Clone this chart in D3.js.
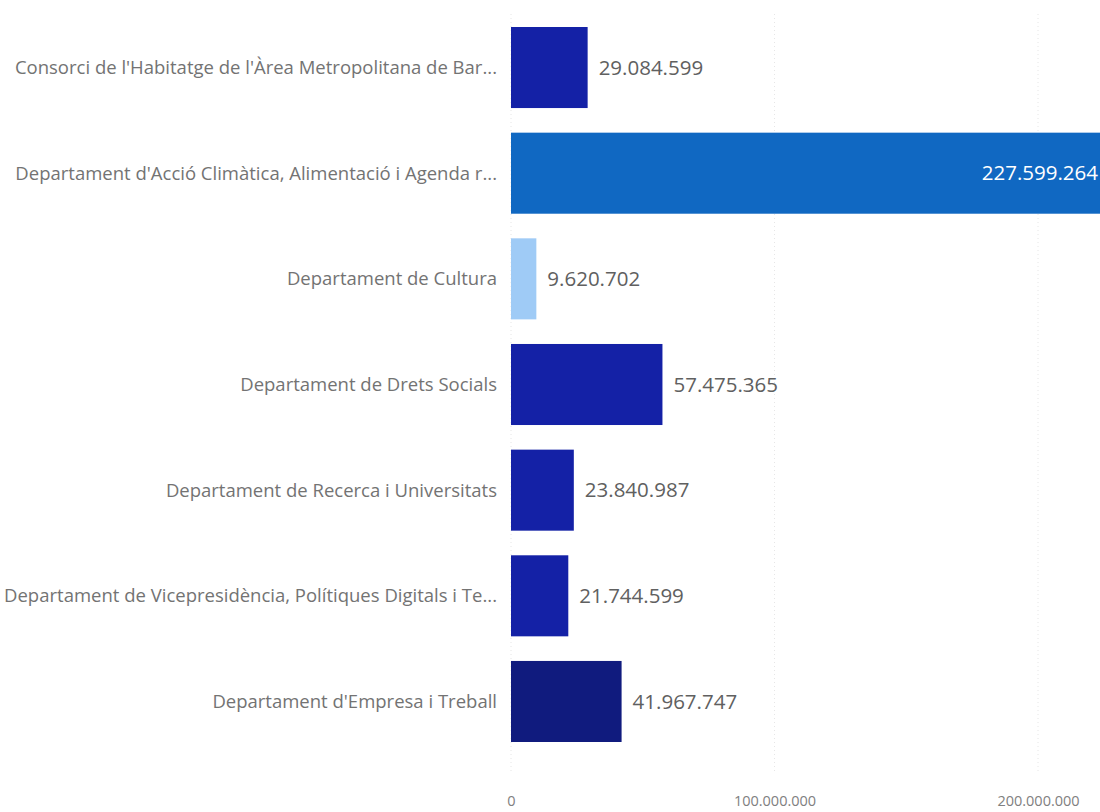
<!DOCTYPE html>
<html>
<head>
<meta charset="utf-8">
<script src="https://cdn.jsdelivr.net/npm/d3@7"></script>
<style>
  body { margin: 0; background: #fff; }
  svg { display: block; font-family: "Open Sans", "Noto Sans", sans-serif; }
</style>
</head>
<body>
<div id="chart"></div>
<script>
var categories = [
    "Consorci de l'Habitatge de l'Àrea Metropolitana de Bar...",
    "Departament d'Acció Climàtica, Alimentació i Agenda r...",
    "Departament de Cultura",
    "Departament de Drets Socials",
    "Departament de Recerca i Universitats",
    "Departament de Vicepresidència, Polítiques Digitals i Te...",
    "Departament d'Empresa i Treball"
];
var values = [29084599, 227599264, 9620702, 57475365, 23840987, 21744599, 41967747];
var barColors = ["#1421a6", "#1068c2", "#9fcbf6", "#1421a6", "#1421a6", "#1421a6", "#101b7e"];
var ticks = [0, 100000000, 200000000];

var width = 1100, height = 812;

var svg = d3.select("#chart")
    .append("svg")
    .attr("width", width)
    .attr("height", height);

var x = d3.scaleLinear()
    .domain([0, 200000000])
    .range([511, 1038]);

var y = d3.scaleBand()
    .domain(categories)
    .range([14.7, 754.3])
    .paddingInner(0.233)
    .paddingOuter(0.1165);

// thousands with dots, like the original
var fmt = d3.formatLocale({decimal: ",", thousands: ".", grouping: [3], currency: ["", "€"]}).format(",d");

// dotted gridlines
svg.append("g")
    .selectAll("line")
    .data(ticks)
    .enter().append("line")
    .attr("x1", function (d) { return x(d); })
    .attr("x2", function (d) { return x(d); })
    .attr("y1", 14)
    .attr("y2", 772)
    .attr("stroke", "#e6e6e6")
    .attr("stroke-width", 1)
    .attr("stroke-dasharray", "1,3");

// x axis labels
var xAxis = svg.append("g")
    .attr("transform", "translate(0,793)")
    .call(d3.axisBottom(x).tickValues(ticks).tickFormat(fmt).tickSize(0));
xAxis.select(".domain").remove();
xAxis.selectAll("text")
    .attr("fill", "#808080")
    .attr("font-size", "14.5px")
    .attr("font-family", "Open Sans, sans-serif");

// category labels
svg.append("g")
    .selectAll("text")
    .data(categories)
    .enter().append("text")
    .attr("x", 497)
    .attr("y", function (d) { return y(d) + y.bandwidth() / 2; })
    .attr("dy", "0.35em")
    .attr("text-anchor", "end")
    .attr("fill", "#737373")
    .attr("font-size", "18.5px")
    .text(function (d) { return d; });

// bars
svg.append("g")
    .selectAll("rect")
    .data(values)
    .enter().append("rect")
    .attr("x", x(0))
    .attr("y", function (d, i) { return y(categories[i]); })
    .attr("width", function (d) { return x(d) - x(0); })
    .attr("height", y.bandwidth())
    .attr("fill", function (d, i) { return barColors[i]; });

// value labels: outside end, or inside when the bar runs off the view
svg.append("g")
    .selectAll("text")
    .data(values)
    .enter().append("text")
    .attr("x", function (d) {
        return x(d) > width - 120 ? width - 2 : x(d) + 11;
    })
    .attr("y", function (d, i) { return y(categories[i]) + y.bandwidth() / 2; })
    .attr("dy", "0.35em")
    .attr("text-anchor", function (d) { return x(d) > width - 120 ? "end" : "start"; })
    .attr("fill", function (d) { return x(d) > width - 120 ? "#ffffff" : "#606060"; })
    .attr("font-size", "20.5px")
    .text(function (d) { return fmt(d); });
</script>
</body>
</html>
